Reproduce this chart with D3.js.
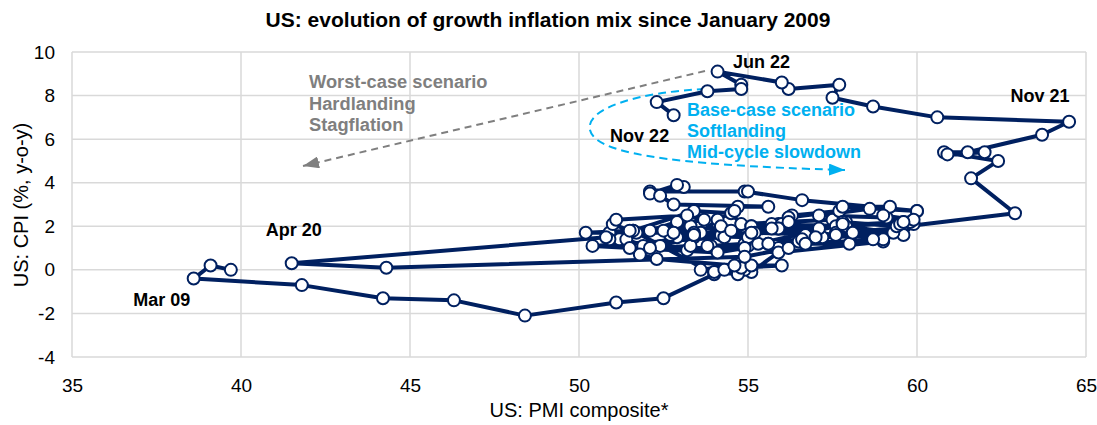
<!DOCTYPE html>
<html>
<head>
<meta charset="utf-8">
<script src="https://cdn.jsdelivr.net/npm/d3@7/dist/d3.min.js"></script>
<style>
  html, body { margin: 0; padding: 0; background: #ffffff; }
  svg { display: block; font-family: "Liberation Sans", Arial, sans-serif; }
</style>
</head>
<body>
<svg id="chart" width="1097" height="425"></svg>
<script>
// Monthly observations, January 2009 to November 2022
const firstMonth = new Date(2009, 0, 1);

// US composite PMI (average of manufacturing and services surveys)
const pmiComposite = [
  39.7, 39.1, 38.6, 41.8, 44.2, 46.3, 48.4, 51.1, 52.5, 54.0, 51.6, 53.4, // 2009
  54.5, 54.8, 57.5, 57.9, 57.6, 55.0, 54.9, 53.9, 53.8, 55.6, 55.8, 57.1, // 2010
  59.6, 59.9, 60.0, 56.6, 54.9, 55.0, 52.1, 53.1, 52.9, 52.1, 52.4, 52.8, // 2011
  55.6, 54.7, 54.6, 54.1, 53.6, 50.9, 51.2, 51.7, 53.3, 52.9, 52.1, 53.4, // 2012
  54.2, 55.1, 52.9, 51.9, 51.4, 51.6, 55.7, 57.2, 55.3, 55.9, 55.6, 55.0, // 2013
  52.7, 52.4, 53.4, 55.1, 55.9, 55.7, 57.9, 59.3, 57.6, 58.1, 59.0, 55.9, // 2014
  55.1, 54.9, 54.0, 54.7, 54.3, 54.8, 56.0, 55.1, 53.6, 54.6, 52.3, 51.8, // 2015
  50.9, 51.5, 53.2, 53.3, 52.1, 54.9, 54.1, 50.4, 54.3, 53.4, 55.2, 56.0, // 2016
  56.3, 57.7, 56.2, 56.2, 55.9, 57.6, 55.1, 57.1, 59.6, 59.4, 57.8, 57.8, // 2017
  59.5, 59.8, 59.1, 57.1, 58.6, 59.2, 57.8, 60.0, 59.9, 59.0, 59.6, 55.9, // 2018
  56.7, 57.0, 55.7, 54.2, 54.5, 53.4, 52.5, 52.8, 50.2, 51.5, 51.0, 51.1, // 2019
  53.2, 53.7, 50.8, 41.5, 44.3, 54.9, 56.2, 56.5, 56.6, 58.0, 56.7, 59.0, // 2020
  58.7, 58.1, 62.9, 61.6, 62.4, 60.8, 62.0, 60.9, 61.5, 63.7, 64.5, 60.6, // 2021
  58.7, 57.5, 57.7, 56.2, 56.0, 54.1, 54.8, 54.8, 53.8, 52.3, 52.8        // 2022
];

// US consumer price inflation, % year on year
const cpiYoY = [
  0.0, 0.2, -0.4, -0.7, -1.3, -1.4, -2.1, -1.5, -1.3, -0.2, 1.8, 2.7,     // 2009
  2.6, 2.1, 2.3, 2.2, 2.0, 1.1, 1.2, 1.1, 1.1, 1.2, 1.1, 1.5,             // 2010
  1.6, 2.1, 2.7, 3.2, 3.6, 3.6, 3.6, 3.8, 3.9, 3.5, 3.4, 3.0,             // 2011
  2.9, 2.9, 2.7, 2.3, 1.7, 1.7, 1.4, 1.7, 2.0, 2.2, 1.8, 1.7,             // 2012
  1.6, 2.0, 1.5, 1.1, 1.4, 1.8, 2.0, 1.5, 1.2, 1.0, 1.2, 1.5,             // 2013
  1.6, 1.1, 1.5, 2.0, 2.1, 2.1, 2.0, 1.7, 1.7, 1.7, 1.3, 0.8,             // 2014
  -0.1, 0.0, -0.1, -0.2, 0.0, 0.1, 0.2, 0.2, 0.0, 0.2, 0.5, 0.7,          // 2015
  1.4, 1.0, 0.9, 1.1, 1.0, 1.0, 0.8, 1.1, 1.5, 1.6, 1.7, 2.1,             // 2016
  2.5, 2.7, 2.4, 2.2, 1.9, 1.6, 1.7, 1.9, 2.2, 2.0, 2.2, 2.1,             // 2017
  2.1, 2.2, 2.4, 2.5, 2.8, 2.9, 2.9, 2.7, 2.3, 2.5, 2.2, 1.9,             // 2018
  1.6, 1.5, 1.9, 2.0, 1.8, 1.6, 1.8, 1.7, 1.7, 1.8, 2.1, 2.3,             // 2019
  2.5, 2.3, 1.5, 0.3, 0.1, 0.6, 1.0, 1.3, 1.4, 1.2, 1.2, 1.4,             // 2020
  1.4, 1.7, 2.6, 4.2, 5.0, 5.4, 5.4, 5.3, 5.4, 6.2, 6.8, 7.0,             // 2021
  7.5, 7.9, 8.5, 8.3, 8.6, 9.1, 8.5, 8.3, 8.2, 7.7, 7.1                   // 2022
];

// Axis ticks
const xTicks = [35, 40, 45, 50, 55, 60, 65];
const yTicks = [-4, -2, 0, 2, 4, 6, 8, 10];

// Months that carry a date label
const calloutMonths = ["2009-03", "2020-04", "2021-11", "2022-06", "2022-11"];

// Scenario annotations
const worstCaseLines = ["Worst-case scenario", "Hardlanding", "Stagflation"];
const baseCaseLines = ["Base-case scenario", "Softlanding", "Mid-cycle slowdown"];

const NAVY = "#002060";
const GRID = "#d9d9d9";
const GREY = "#7f7f7f";
const SKY = "#00b0f0";

const svg = d3.select("#chart");
const fmtKey = d3.timeFormat("%Y-%m");
const fmtLabel = d3.timeFormat("%b %y");
const fmtTick = d => String(d); // plain hyphen for negatives

const points = pmiComposite.map((p, i) => ({
  date: d3.timeMonth.offset(firstMonth, i),
  pmi: p,
  cpi: cpiYoY[i]
}));

const x = d3.scaleLinear().domain([35, 65]).range([72, 1086]);
const y = d3.scaleLinear().domain([-4, 10]).range([357, 52]);

// Title
svg.append("text")
  .attr("x", 548).attr("y", 27)
  .attr("text-anchor", "middle")
  .attr("font-size", 21).attr("font-weight", "bold").attr("fill", "#000")
  .text("US: evolution of growth inflation mix since January 2009");

// Gridlines
const grid = svg.append("g");
grid.selectAll("line.v").data(xTicks).join("line")
  .attr("x1", d => x(d)).attr("x2", d => x(d))
  .attr("y1", y(10)).attr("y2", y(-4))
  .attr("stroke", GRID).attr("stroke-width", 1.5);
grid.selectAll("line.h").data(yTicks).join("line")
  .attr("x1", x(35)).attr("x2", x(65))
  .attr("y1", d => y(d)).attr("y2", d => y(d))
  .attr("stroke", GRID).attr("stroke-width", 1.5);

// Axes (labels only; the grid carries the lines)
const xAxis = svg.append("g")
  .attr("transform", `translate(0,${y(-4)})`)
  .call(d3.axisBottom(x).tickValues(xTicks).tickSize(0).tickPadding(22).tickFormat(fmtTick));
const yAxis = svg.append("g")
  .attr("transform", `translate(${x(35)},0)`)
  .call(d3.axisLeft(y).tickValues(yTicks).tickSize(0).tickPadding(17).tickFormat(fmtTick));
[xAxis, yAxis].forEach(a => {
  a.select(".domain").remove();
  a.selectAll("text").attr("font-size", 19).attr("fill", "#000")
    .attr("font-family", "'Liberation Sans', Arial, sans-serif");
});

svg.append("text")
  .attr("x", 579).attr("y", 417)
  .attr("text-anchor", "middle").attr("font-size", 20).attr("fill", "#000")
  .text("US: PMI composite*");
svg.append("text")
  .attr("transform", "translate(28,205) rotate(-90)")
  .attr("text-anchor", "middle").attr("font-size", 20).attr("fill", "#000")
  .text("US: CPI (%, y-o-y)");

// Arrowheads
const defs = svg.append("defs");
function arrowHead(id, color, w, h) {
  defs.append("marker")
    .attr("id", id).attr("markerUnits", "userSpaceOnUse")
    .attr("markerWidth", w).attr("markerHeight", h)
    .attr("refX", w).attr("refY", h / 2).attr("orient", "auto")
    .append("path").attr("d", `M0,0L${w},${h / 2}L0,${h}Z`).attr("fill", color);
}
arrowHead("arrow-grey", GREY, 16, 12);
arrowHead("arrow-sky", SKY, 16, 12);

// Worst-case path: heading down and to the left
svg.append("line")
  .attr("x1", 705).attr("y1", 71).attr("x2", 303).attr("y2", 166)
  .attr("stroke", GREY).attr("stroke-width", 2)
  .attr("stroke-dasharray", "7,5")
  .attr("marker-end", "url(#arrow-grey)");

// Base-case path: a loop back towards lower inflation
svg.append("path")
  .attr("d", "M705,89 C640,92 585,108 590,130 C595,152 660,165 845,170")
  .attr("fill", "none").attr("stroke", SKY).attr("stroke-width", 2)
  .attr("stroke-dasharray", "8,5")
  .attr("marker-end", "url(#arrow-sky)");

// Scenario text
svg.append("text")
  .attr("x", 309).attr("y", 88)
  .attr("font-size", 18.3).attr("font-weight", "bold").attr("fill", GREY)
  .selectAll("tspan").data(worstCaseLines).join("tspan")
  .attr("x", 309).attr("dy", (d, i) => i === 0 ? 0 : 21.5).text(d => d);
svg.append("text")
  .attr("x", 687).attr("y", 116)
  .attr("font-size", 18).attr("font-weight", "bold").attr("fill", SKY)
  .selectAll("tspan").data(baseCaseLines).join("tspan")
  .attr("x", 687).attr("dy", (d, i) => i === 0 ? 0 : 21).text(d => d);

// Trajectory
const line = d3.line().x(d => x(d.pmi)).y(d => y(d.cpi));
svg.append("path")
  .datum(points)
  .attr("d", line)
  .attr("fill", "none").attr("stroke", NAVY)
  .attr("stroke-width", 4).attr("stroke-linejoin", "round");

svg.append("g").selectAll("circle").data(points).join("circle")
  .attr("cx", d => x(d.pmi)).attr("cy", d => y(d.cpi)).attr("r", 6)
  .attr("fill", "#fff").attr("stroke", NAVY).attr("stroke-width", 2);

// Date labels beside selected months
const labelOffset = {
  "2009-03": [-32, 27],
  "2020-04": [2, -27],
  "2021-11": [-29, -20],
  "2022-06": [44, -4],
  "2022-11": [-34, 27]
};
svg.append("g").selectAll("text")
  .data(points.filter(d => calloutMonths.includes(fmtKey(d.date))))
  .join("text")
  .attr("x", d => x(d.pmi) + labelOffset[fmtKey(d.date)][0])
  .attr("y", d => y(d.cpi) + labelOffset[fmtKey(d.date)][1])
  .attr("text-anchor", "middle")
  .attr("font-size", 18).attr("font-weight", "bold").attr("fill", "#000")
  .text(d => fmtLabel(d.date));
</script>
</body>
</html>
